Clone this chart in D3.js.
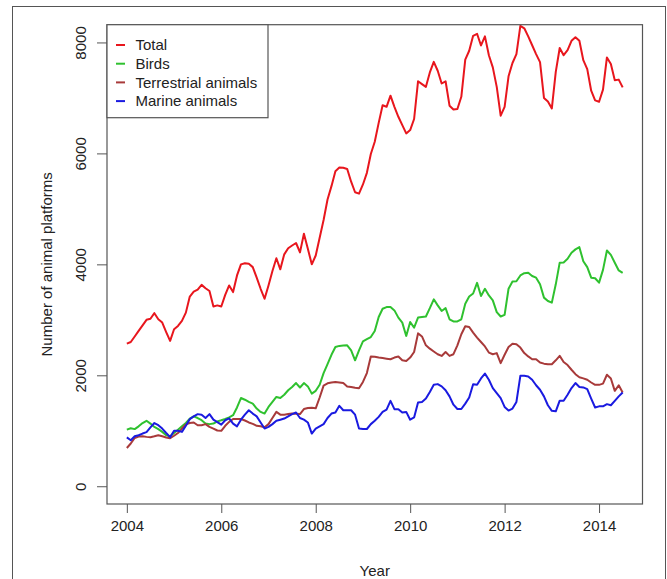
<!DOCTYPE html>
<html>
<head>
<meta charset="utf-8">
<script src="https://cdn.jsdelivr.net/npm/d3@7"></script>
<style>
  html, body { margin: 0; padding: 0; background: #fff; }
  svg { display: block; }
  text { font-family: "Liberation Sans", Arial, Helvetica, sans-serif; fill: #222; }
</style>
</head>
<body>
<svg id="chart" width="667" height="579"></svg>
<script>
// Monthly counts, January 2004 to July 2014
const startYear = 2004;
const total = [
  2570, 2600, 2700, 2800, 2900, 3000, 3020, 3120, 3010, 2950, 2780, 2620,
  2830, 2890, 2980, 3130, 3420, 3510, 3545, 3630, 3570, 3520, 3240, 3260,
  3240, 3450, 3620, 3500, 3800, 4000, 4020, 4010, 3950, 3760, 3560, 3380,
  3620, 3880, 4110, 3910, 4180, 4290, 4340, 4385, 4216, 4552, 4280, 4000,
  4160, 4480, 4800, 5170, 5410, 5680, 5745, 5740, 5720, 5490, 5300, 5275,
  5440, 5650, 5990, 6210, 6550, 6868, 6840, 7040, 6840, 6660, 6510, 6360,
  6420, 6620, 7300, 7250, 7200, 7460, 7650, 7490, 7260, 7300, 6860, 6790,
  6800, 7020, 7690, 7850, 8120, 8156, 7946, 8110, 7770, 7550, 7200, 6680,
  6840, 7390, 7630, 7790, 8300, 8255, 8110, 7950, 7790, 7646, 7000, 6935,
  6810, 7470, 7900, 7770, 7860, 8030, 8095, 8030, 7680, 7520, 7130, 6955,
  6930, 7150, 7730, 7610, 7320, 7330, 7190
];
const birds = [
  1020, 1045, 1030, 1080, 1140, 1180, 1130, 1070, 1030, 980, 920, 900,
  960, 1020, 1080, 1140, 1220, 1260, 1230, 1190, 1130, 1120, 1130, 1170,
  1190, 1212, 1240, 1280, 1420, 1590, 1560, 1520, 1490, 1400, 1340, 1310,
  1430, 1520, 1610, 1590, 1650, 1730, 1790, 1860, 1780, 1860, 1800, 1670,
  1720, 1830, 2040, 2200, 2370, 2510, 2530, 2535, 2540, 2450, 2270, 2450,
  2610, 2650, 2690, 2800, 3050, 3200, 3230, 3230, 3170, 3040, 2950, 2710,
  2960, 2860, 3040, 3050, 3060, 3210, 3370, 3260, 3160, 3210, 3010, 2970,
  2970, 3010, 3290, 3420, 3475, 3667, 3430, 3560, 3440, 3350, 3140, 3060,
  3090, 3560, 3690, 3696, 3800, 3840, 3850, 3790, 3760, 3640, 3400, 3340,
  3310, 3640, 4030, 4035, 4100, 4210, 4270, 4310, 4055, 3950, 3760, 3750,
  3670, 3900, 4250, 4170, 4030, 3890, 3845
];
const terrestrial = [
  690, 770, 870, 895, 900, 890, 885, 900, 920, 900, 880, 865,
  910, 960, 1040, 1115, 1140, 1150, 1100, 1100, 1120, 1070, 1040, 1005,
  1000, 1090, 1160, 1212, 1212, 1212, 1185, 1150, 1125, 1090, 1080, 1063,
  1120, 1230, 1340, 1290, 1290, 1302, 1310, 1308, 1302, 1392, 1410, 1415,
  1405, 1600, 1815, 1855, 1870, 1880, 1872, 1860, 1800, 1790, 1775, 1765,
  1880, 2040, 2340, 2335, 2320, 2310, 2300, 2290, 2320, 2340, 2270, 2259,
  2320, 2420, 2756, 2700, 2541, 2480, 2430, 2380, 2349, 2420, 2350, 2380,
  2540, 2740, 2885, 2870, 2770, 2680, 2600, 2520, 2410, 2380, 2400, 2220,
  2370, 2510, 2570, 2560, 2500, 2400, 2340, 2290, 2289, 2230, 2210, 2199,
  2199, 2270, 2350, 2240, 2185, 2100, 2020, 1965, 1945, 1920, 1870, 1828,
  1828, 1850, 2010, 1942, 1720, 1820, 1690
];
const marine = [
  880, 830, 900, 920, 950, 975, 1060, 1140, 1100, 1040, 960, 885,
  1000, 1000, 980, 1090, 1210, 1260, 1300, 1290, 1230, 1300, 1200, 1155,
  1110, 1190, 1224, 1130, 1080, 1200, 1290, 1370, 1310, 1260, 1150, 1040,
  1070, 1120, 1180, 1200, 1220, 1260, 1300, 1330, 1230, 1200, 1150, 950,
  1040, 1080, 1120, 1230, 1310, 1330, 1450, 1370, 1370, 1370, 1290, 1040,
  1032, 1032, 1120, 1180, 1250, 1340, 1380, 1540, 1390, 1390, 1330, 1340,
  1200, 1240, 1510, 1520, 1580, 1700, 1830, 1841, 1800, 1730, 1620, 1470,
  1392, 1392, 1490, 1600, 1840, 1830, 1943, 2030, 1920, 1770, 1680, 1590,
  1430, 1365, 1400, 1520, 1990, 1990, 1980, 1920, 1820, 1740, 1620, 1460,
  1360, 1350, 1542, 1542, 1650, 1770, 1860, 1790, 1781, 1750, 1580, 1420,
  1440, 1440, 1480, 1460, 1540, 1620, 1690
];

const seriesNames = ["Total", "Birds", "Terrestrial animals", "Marine animals"];
const seriesColors = ["#e8161d", "#2fc12f", "#a83a3a", "#1a1ae0"];
const seriesValues = [total, birds, terrestrial, marine];

const xTicks = [2004, 2006, 2008, 2010, 2012, 2014];
const yTicks = [0, 2000, 4000, 6000, 8000];

const svg = d3.select("#chart");

// Plot region
const box = { left: 107, right: 642.5, top: 24.7, bottom: 504 };

// Axis ranges padded 4% beyond the data limits (2004–2014.5, 0–8000)
const xMin = 2004, xMax = 2014.5, yMin = 0, yMax = 8000;
const xPad = 0.04 * (xMax - xMin), yPad = 0.04 * (yMax - yMin);
const x = d3.scaleLinear().domain([xMin - xPad, xMax + xPad]).range([box.left, box.right]);
const y = d3.scaleLinear().domain([yMin - yPad, yMax + yPad]).range([box.bottom, box.top]);

// Outer frame
svg.append("rect")
  .attr("x", 12.5).attr("y", 6.5)
  .attr("width", 653).attr("height", 600)
  .attr("fill", "none").attr("stroke", "#555").attr("stroke-width", 1);

// Series lines
const line = d3.line()
  .x((d, i) => x(startYear + i / 12))
  .y(d => y(d));

const clip = svg.append("clipPath").attr("id", "plotclip")
  .append("rect")
  .attr("x", box.left).attr("y", box.top)
  .attr("width", box.right - box.left).attr("height", box.bottom - box.top);

const plot = svg.append("g").attr("clip-path", "url(#plotclip)");
seriesValues.forEach((vals, k) => {
  plot.append("path")
    .datum(vals)
    .attr("d", line)
    .attr("fill", "none")
    .attr("stroke", seriesColors[k])
    .attr("stroke-width", 2)
    .attr("stroke-linejoin", "round");
});

// Bottom axis
const xAxis = svg.append("g")
  .attr("transform", `translate(0,${box.bottom})`)
  .call(d3.axisBottom(x).tickValues(xTicks).tickFormat(d3.format("d")).tickSize(9).tickPadding(7));
xAxis.select(".domain").remove();
xAxis.selectAll(".tick line").attr("stroke", "#555");
xAxis.selectAll(".tick text")
  .style("font-size", "15px")
  .attr("fill", "#222")
  .style("font-family", "'Liberation Sans', Arial, sans-serif");

// Left axis, labels parallel to the axis
const yAxis = svg.append("g")
  .attr("transform", `translate(${box.left},0)`)
  .call(d3.axisLeft(y).tickValues(yTicks).tickFormat(d3.format("d")).tickSize(10));
yAxis.select(".domain").remove();
yAxis.selectAll(".tick line").attr("stroke", "#555");
yAxis.selectAll(".tick text")
  .attr("x", null).attr("dy", null)
  .attr("text-anchor", "middle")
  .attr("transform", "translate(-21,0) rotate(-90)")
  .style("font-size", "15px")
  .attr("fill", "#222")
  .style("font-family", "'Liberation Sans', Arial, sans-serif");

// Plot border
svg.append("rect")
  .attr("x", box.left).attr("y", box.top)
  .attr("width", box.right - box.left).attr("height", box.bottom - box.top)
  .attr("fill", "none").attr("stroke", "#555").attr("stroke-width", 1.2);

// Axis titles
svg.append("text")
  .attr("x", (box.left + box.right) / 2).attr("y", 576)
  .attr("text-anchor", "middle")
  .style("font-size", "15px")
  .text("Year");

svg.append("text")
  .attr("transform", `translate(52,${(y(0) + y(8000)) / 2 + 0}) rotate(-90)`)
  .attr("text-anchor", "middle")
  .style("font-size", "15px")
  .text("Number of animal platforms");

// Legend
const legend = svg.append("g");
legend.append("rect")
  .attr("x", box.left).attr("y", box.top)
  .attr("width", 161).attr("height", 93)
  .attr("fill", "#fff").attr("stroke", "#555").attr("stroke-width", 1.2);
seriesNames.forEach((name, k) => {
  const cy = 45 + k * 18.7;
  legend.append("line")
    .attr("x1", 116).attr("x2", 125)
    .attr("y1", cy).attr("y2", cy)
    .attr("stroke", seriesColors[k]).attr("stroke-width", 2);
  legend.append("text")
    .attr("x", 135.5).attr("y", cy + 5.3)
    .style("font-size", "15px")
    .text(name);
});
</script>
</body>
</html>
